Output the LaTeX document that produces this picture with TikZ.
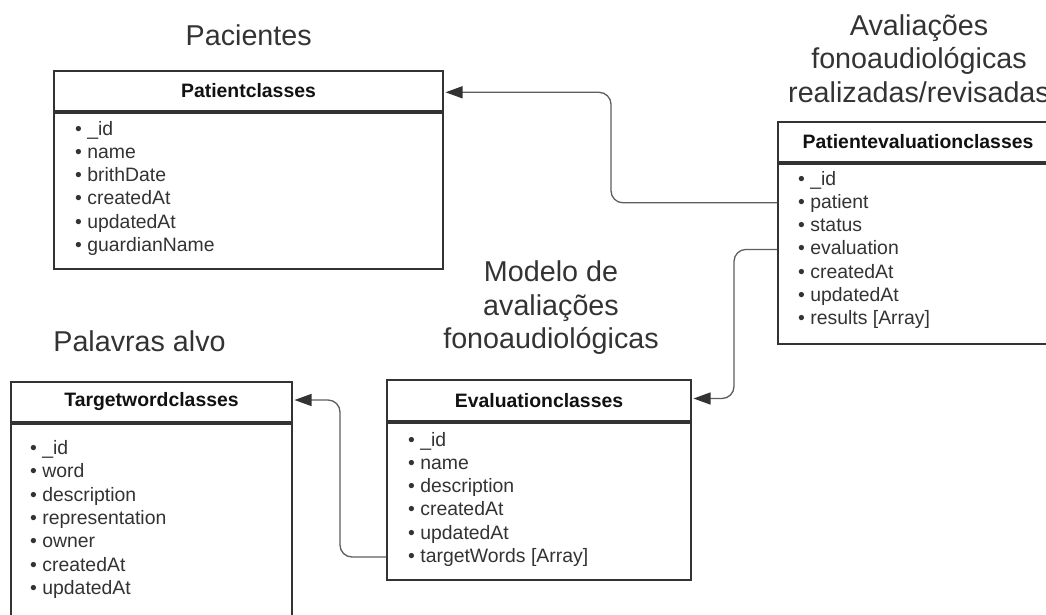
\documentclass[tikz,border=0pt]{standalone}
\usepackage{fontspec}
\setmainfont{Liberation Sans}
\usetikzlibrary{arrows.meta}
\definecolor{ink}{HTML}{333333}
\definecolor{headink}{HTML}{111111}
\definecolor{linkgray}{HTML}{5E5E5E}

\begin{document}
\begin{tikzpicture}[x=1pt,y=-1pt,
  title/.style={text=ink, font=\fontsize{28.7}{33.5}\selectfont, align=center, inner sep=0},
  classhead/.style={draw=ink, line width=2pt, fill=white, inner sep=0,
    font=\fontsize{19.4}{23}\selectfont\bfseries, text=headink},
  classbody/.style={draw=ink, line width=2pt, fill=white, inner sep=0, anchor=north},
  field/.style={text=ink, font=\fontsize{19.4}{23}\selectfont, inner sep=0,
    anchor=base west, text height=11pt, text depth=0pt},
  link/.style={draw=linkgray, line width=1.3pt, rounded corners=12pt, shorten >=1.5pt,
    -{Triangle[length=17pt,width=12pt,color=ink]}},
]
\useasboundingbox (0,0) rectangle (1046,614);
\clip (0,0) rectangle (1046,614);

% group titles
\node[title] (t-pac) at (248.7,35) {Pacientes};
\node[title] (t-ava) at (919,58.5) {Avaliações\\fonoaudiológicas\\realizadas/revisadas};
\node[title] (t-mod) at (551,308) {Modelo de\\avaliações\\fonoaudiológicas};
\node[title] (t-pal) at (139.5,341) {Palavras alvo};

% Patientclasses
\node[classhead, minimum width=389pt, minimum height=39.8pt] (pc-head) at (248.5,90.6) {Patientclasses};
\node[classbody, minimum width=389pt, minimum height=156.5pt] (pc) at (pc-head.south) {};
\foreach \f [count=\i] in {\_id, name, brithDate, createdAt, updatedAt, guardianName}
  \node[field] (pc-\i) at (75,{135+23.3*(\i-1)}) {• \f};

% Patientevaluationclasses
\node[classhead, minimum width=280pt, minimum height=40pt] (pe-head) at (918,141.7) {Patientevaluationclasses};
\node[classbody, minimum width=280pt, minimum height=180pt] (pe) at (pe-head.south) {};
\foreach \f [count=\i] in {\_id, patient, status, evaluation, createdAt, updatedAt, {results [Array]}}
  \node[field] (pe-\i) at (798,{185+23.3*(\i-1)}) {• \f};

% Evaluationclasses
\node[classhead, minimum width=304pt, minimum height=41pt] (ev-head) at (539,400.5) {Evaluationclasses};
\node[classbody, minimum width=304pt, minimum height=157pt] (ev) at (ev-head.south) {};
\foreach \f [count=\i] in {\_id, name, description, createdAt, updatedAt, {targetWords [Array]}}
  \node[field] (ev-\i) at (408,{446+23.3*(\i-1)}) {• \f};

% Targetwordclasses
\node[classhead, minimum width=281pt, minimum height=40pt] (tw-head) at (151.5,402) {Targetwordclasses};
\node[classbody, minimum width=281pt, minimum height=218pt] (tw) at (tw-head.south) {};
\foreach \f [count=\i] in {\_id, word, description, representation, owner, createdAt, updatedAt}
  \node[field] (tw-\i) at (30,{454.5+23.3*(\i-1)}) {• \f};

% references between classes
\coordinate (j1) at (611,0);
\coordinate (j2) at (734,0);
\coordinate (j3) at (340,0);
\coordinate (pc-in) at ([yshift=-1.7pt]pc-head.east);
\coordinate (ev-in) at ([yshift=2pt]ev-head.east);
\coordinate (tw-in) at ([yshift=2pt]tw-head.east);
\draw[link] (pe.west |- pe-2) -| (j1 |- pc-in) -- (pc-in);
\draw[link] (pe.west |- pe-4) -| (j2 |- ev-in) -- (ev-in);
\draw[link] (ev.west |- ev-6) -| (j3 |- tw-in) -- (tw-in);
\end{tikzpicture}
\end{document}
